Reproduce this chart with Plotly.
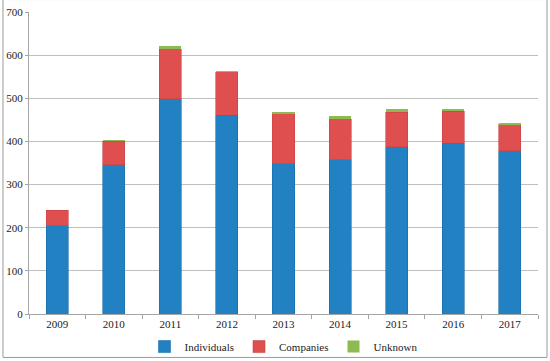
import plotly.graph_objects as go

years = ["2009", "2010", "2011", "2012", "2013", "2014", "2015", "2016", "2017"]
individuals = [205, 346, 499, 461, 348, 357, 388, 396, 378]
companies = [35, 55, 116, 101, 117, 96, 80, 74, 62]
unknown = [0, 1, 6, 0, 2, 7, 7, 5, 3]

series = [
    ("Individuals", individuals, "#2181C3", "#1A6DA8", 0.6),
    ("Companies", companies, "#E04F4F", "#C84444", 0.6),
    ("Unknown", unknown, "#8DBB52", "#7AA645", 0),
]

fig = go.Figure()
for name, vals, col, edge, lw in series:
    fig.add_trace(go.Bar(x=years, y=vals, name=name,
                         marker=dict(color=col, line=dict(color=edge, width=lw))))

FONT = "Liberation Serif"
fig.update_layout(
    barmode="stack",
    bargap=0.61,
    width=550, height=361,
    margin=dict(l=29, r=12, t=12, b=46.5, autoexpand=False),
    paper_bgcolor="white", plot_bgcolor="white",
    font=dict(family=FONT, size=11, color="#222222"),
    showlegend=True,
    legend=dict(orientation="h", x=0.5, xanchor="center", y=-0.06, yanchor="top",
                font=dict(family=FONT, size=11, color="#222222"),
                itemwidth=30, traceorder="normal", tracegroupgap=0,
                bgcolor="rgba(0,0,0,0)"),
    xaxis=dict(type="category", showline=True, linecolor="#A6A6A6", linewidth=1,
               ticks="outside", tickson="boundaries", ticklen=4, tickcolor="#A6A6A6",
               showgrid=False, tickfont=dict(family=FONT, size=11), automargin=False),
    yaxis=dict(range=[0, 700], dtick=100, showline=True, linecolor="#A6A6A6", linewidth=1,
               ticks="outside", ticklen=3, tickcolor="#A6A6A6",
               showgrid=True, gridcolor="#BFBFBF", gridwidth=1, zeroline=False,
               tickfont=dict(family=FONT, size=11), automargin=False),
    shapes=[dict(type="rect", xref="paper", yref="paper",
                 x0=-0.0511, x1=1.0177, y0=-0.1438, y1=1.0413,
                 line=dict(color="#9A9A9A", width=1), fillcolor="rgba(0,0,0,0)", layer="above")],
)

fig.write_html("out.html", config={"displayModeBar": False},
               post_script="document.body.style.margin='0';document.body.style.overflow='hidden';")
